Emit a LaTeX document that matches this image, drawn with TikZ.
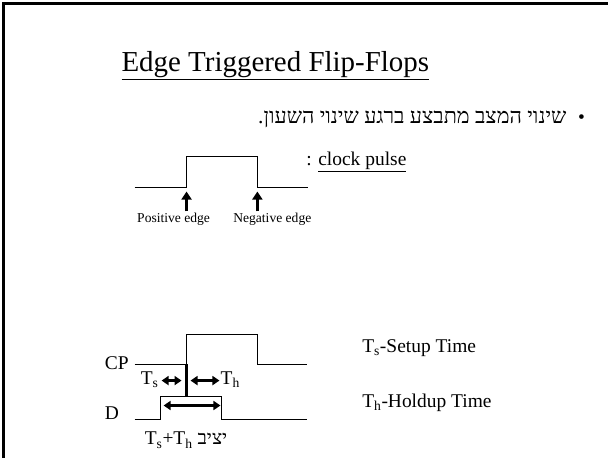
\documentclass[tikz,border=0pt]{standalone}
\usepackage{fontspec}
\setmainfont{Liberation Serif}
\newfontfamily\hebfont[Script=Hebrew]{Liberation Serif}
\TeXXeTstate=1
\usetikzlibrary{%
	calc,%
	arrows.meta,%
	positioning,%
}
\tikzset{
	>=Triangle,%
	titlenode/.style={%
			inner sep=0,%
			font={\fontsize{29}{32}\selectfont}},%
	textnode/.style={%
			inner sep=0,%
			font={\fontsize{19.5}{22}\selectfont}},%
	smallnode/.style={%
			inner sep=0,%
			font={\fontsize{13.6}{15}\selectfont}},%
	wave/.style={%
			draw,%
			line width=1pt},%
	edgearrow/.style={%
			->,%
			line width=3pt,%
			>={Triangle[length=8pt,width=10pt]}},%
	holdarrow/.style={%
			<->,%
			line width=2.4pt,%
			>={Triangle[length=7pt,width=9pt]}},%
	framebox/.style={%
			draw,%
			line width=3pt},%
}
\newcommand{\heb}[1]{{\hebfont\beginR #1\endR}}

\begin{document}
\begin{tikzpicture}[x=1pt, y=-1pt]%
	\fill[white] (0,0) rectangle (609,459);
	\coordinate (fa) at (3.5,459);
	\coordinate (fb) at (3.5,3.5);
	\coordinate (fc) at (609,3.5);
	\draw[framebox] (fa) -- (fb) -- (fc);

	\node[titlenode, anchor=base] (title) at (276,72) {\underline{Edge Triggered Flip-Flops}};
	\node[textnode, anchor=base east, font={\fontsize{21.6}{24}\selectfont}] (rule) at (568,124) {\heb{שינוי המצב מתבצע ברגע שינוי השעון.}};
	\node[textnode, anchor=base] (dot) at (583,124) {•};

	% clock pulse
	\coordinate (c0) at (135,188);
	\coordinate (c1) at (187,188);
	\coordinate (c2) at (187,157);
	\coordinate (c3) at (258,157);
	\coordinate (c4) at (258,188);
	\coordinate (c5) at (309,188);
	\draw[wave] (c0) -- (c1) -- (c2) -- (c3) -- (c4) -- (c5);
	\node[textnode, anchor=base west] (cpl) at (307,166) {: \underline{clock pulse}};

	\node[smallnode, anchor=base] (pe) at (174,223) {Positive edge};
	\node[smallnode, anchor=base] (ne) at (273,223) {Negative edge};
	\draw[edgearrow] ($(c1)+(0,24)$) coordinate (pa) -- ($(c1)+(0,4)$);
	\draw[edgearrow] ($(c4)+(0,24)$) coordinate (na) -- ($(c4)+(0,4)$);

	% CP and D timing
	\coordinate (p0) at (135,365);
	\coordinate (p1) at (187,365);
	\coordinate (p2) at (187,335);
	\coordinate (p3) at (258,335);
	\coordinate (p4) at (258,365);
	\coordinate (p5) at (308,365);
	\draw[wave] (p0) -- (p1) -- (p2) -- (p3) -- (p4) -- (p5);

	\coordinate (d0) at (135,421);
	\coordinate (d1) at (161,421);
	\coordinate (d2) at (161,397);
	\coordinate (d3) at (222,397);
	\coordinate (d4) at (222,421);
	\coordinate (d5) at (308,421);
	\draw[wave] (d0) -- (d1) -- (d2) -- (d3) -- (d4) -- (d5);
	\draw[line width=2.6pt] (p1) -- (187,397);

	\node[textnode, anchor=base west] (cp) at (105,370) {CP};
	\node[textnode, anchor=base west] (d) at (105,421) {D};
	\node[textnode, anchor=base west] (ts) at (141,385) {T\textsubscript{s}};
	\node[textnode, anchor=base west] (th) at (221,385) {T\textsubscript{h}};
	\draw[holdarrow] (162,381.5) -- (182,381.5);
	\draw[holdarrow] (191,381.5) -- (220,381.5);
	\draw[holdarrow] (164,406.5) -- (221,406.5);
	\node[textnode, anchor=base west] (stable) at (145,446) {T\textsubscript{s}+T\textsubscript{h} \heb{יציב}};

	\node[textnode, anchor=base west] (setup) at (363,353) {T\textsubscript{s}-Setup Time};
	\node[textnode, anchor=base west] (hold) at (363,408) {T\textsubscript{h}-Holdup Time};
\end{tikzpicture}
\end{document}
